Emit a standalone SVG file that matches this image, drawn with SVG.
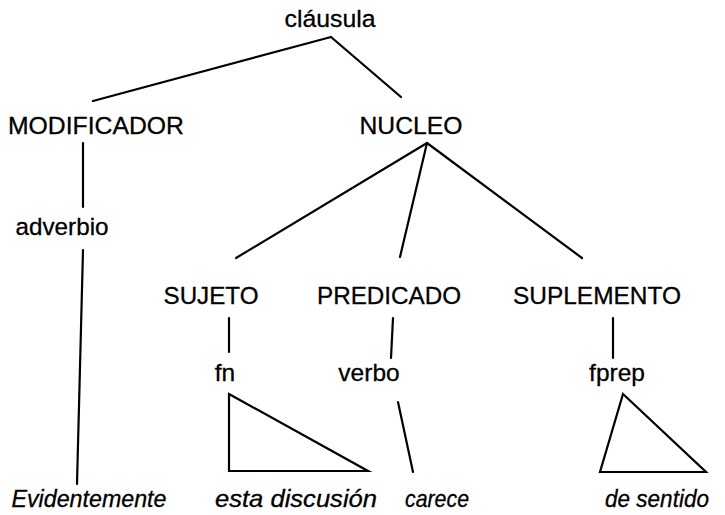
<svg xmlns="http://www.w3.org/2000/svg" width="725" height="515" viewBox="0 0 725 515">
<style>
text{font-family:"Liberation Sans",Arial,sans-serif;font-size:24.5px;fill:#000;stroke:#000;stroke-width:0.3;text-anchor:middle}
.w{font-style:italic;font-size:24px}
.c line,.c polygon{stroke:#000;stroke-width:2.2;fill:none;stroke-linecap:round;stroke-linejoin:miter}
</style>
<rect width="725" height="515" fill="#fff"/>
<g class="c" id="connectors">
<line x1="331" y1="37" x2="93" y2="101"/>
<line x1="331" y1="37" x2="401" y2="97"/>
<line x1="83" y1="143" x2="83" y2="207"/>
<line x1="83" y1="250" x2="77" y2="484"/>
<line x1="427" y1="143" x2="236" y2="258"/>
<line x1="427" y1="143" x2="400" y2="257"/>
<line x1="427" y1="143" x2="582" y2="258"/>
<line x1="229" y1="318" x2="229" y2="352"/>
<line x1="393" y1="318" x2="391" y2="358"/>
<line x1="613" y1="318" x2="613" y2="358"/>
<polygon points="229,394 368,471 229,471"/>
<line x1="398" y1="402" x2="413" y2="472"/>
<polygon points="623,394 706,472 600,472"/>
</g>
<g id="n-clausula"><text x="330" y="27" textLength="91" lengthAdjust="spacingAndGlyphs">cláusula</text></g>
<g id="n-modificador"><text x="96" y="134" textLength="176" lengthAdjust="spacingAndGlyphs">MODIFICADOR</text></g>
<g id="n-nucleo"><text x="411" y="134" textLength="103" lengthAdjust="spacingAndGlyphs">NUCLEO</text></g>
<g id="n-adverbio"><text x="62" y="235" textLength="93" lengthAdjust="spacingAndGlyphs">adverbio</text></g>
<g id="n-sujeto"><text x="211" y="304" textLength="95" lengthAdjust="spacingAndGlyphs">SUJETO</text></g>
<g id="n-predicado"><text x="389" y="304" textLength="144" lengthAdjust="spacingAndGlyphs">PREDICADO</text></g>
<g id="n-suplemento"><text x="597" y="304" textLength="168" lengthAdjust="spacingAndGlyphs">SUPLEMENTO</text></g>
<g id="n-fn"><text x="225" y="381">fn</text></g>
<g id="n-verbo"><text x="369" y="381">verbo</text></g>
<g id="n-fprep"><text x="617" y="381">fprep</text></g>
<g id="n-evidentemente"><text class="w" x="89" y="507" textLength="155" lengthAdjust="spacingAndGlyphs">Evidentemente</text></g>
<g id="n-esta"><text class="w" x="296" y="507" textLength="162" lengthAdjust="spacingAndGlyphs">esta discusión</text></g>
<g id="n-carece"><text class="w" x="437" y="507" textLength="64" lengthAdjust="spacingAndGlyphs">carece</text></g>
<g id="n-desentido"><text class="w" x="657" y="507" textLength="104" lengthAdjust="spacingAndGlyphs">de sentido</text></g>
</svg>
